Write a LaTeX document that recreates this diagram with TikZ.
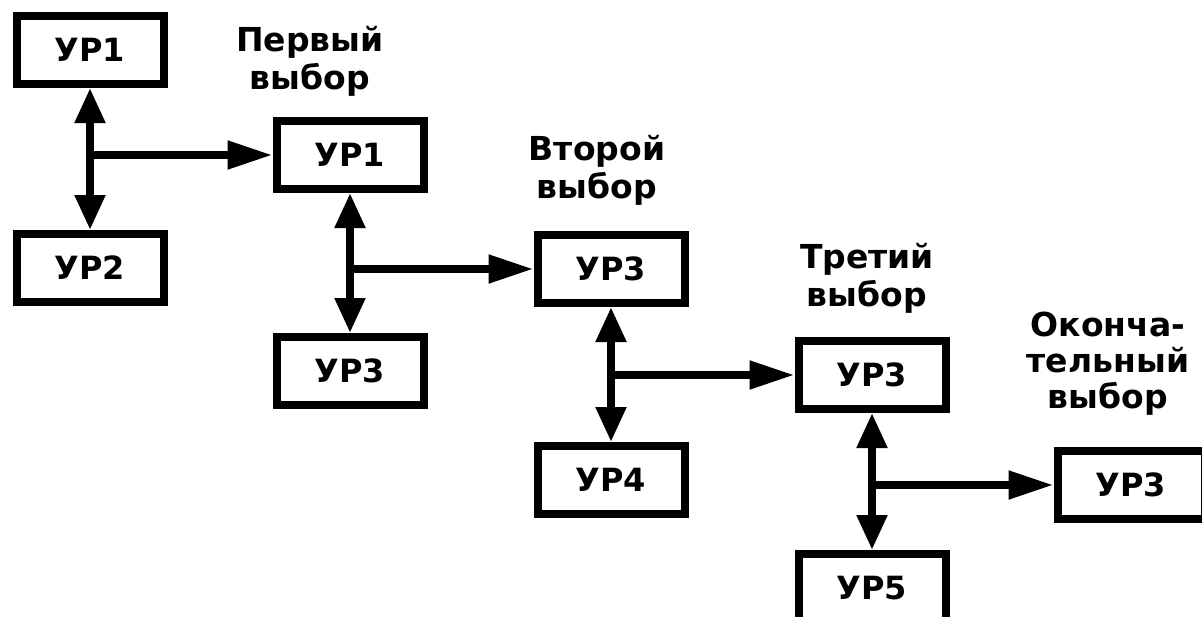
\documentclass[tikz,border=0pt]{standalone}
\usepackage{fontspec}
\setmainfont{DejaVu Sans}
\usetikzlibrary{arrows.meta}
\tikzset{
  box/.style={draw=black, line width=8pt, fill=white, minimum width=147pt, minimum height=68pt,
    inner sep=0pt, font=\fontsize{32}{38}\selectfont\bfseries},
  lbl/.style={anchor=north, inner sep=0pt, align=center, font=\fontsize{33}{38}\selectfont\bfseries},
  conn/.style={line width=8pt, draw=black},
  vtip/.tip={Triangle[length=35pt,width=29pt]},
  htip/.tip={Triangle[length=45pt,width=27pt]},
}
\begin{document}
\begin{tikzpicture}[x=1pt,y=-1pt]
\useasboundingbox (0,0) rectangle (1202,616);
\clip (0,0) rectangle (1202,616);
\fill[white] (0,0) rectangle (1202,616);

\node[box] (a1) at (90,50) {УР1};
\node[box] (a2) at (90,268) {УР2};
\node[box] (b1) at (350,155) {УР1};
\node[box] (b2) at (350,371) {УР3};
\node[box] (c1) at (611,269) {УР3};
\node[box] (c2) at (611,480) {УР4};
\node[box] (d1) at (872,375) {УР3};
\node[box] (d2) at (872,588) {УР5};
\node[box] (e1) at (1131,485) {УР3};

\node[lbl] (l1) at (310,26) {Первый\\выбор};
\node[lbl] (l2) at (597,135) {Второй\\выбор};
\node[lbl] (l3) at (867,243) {Третий\\выбор};
\node[lbl, font=\fontsize{33}{36}\selectfont\bfseries] (l4) at (1108,312) {Оконча-\\тельный\\выбор};

\foreach \t/\b/\n in {a1/a2/b1, b1/b2/c1, c1/c2/d1, d1/d2/e1}{
  \draw[conn, vtip-vtip] (\t.south) -- (\b.north);
  \draw[conn, -htip] (\t.south |- \n.west) -- (\n.west);
}
\end{tikzpicture}
\end{document}
